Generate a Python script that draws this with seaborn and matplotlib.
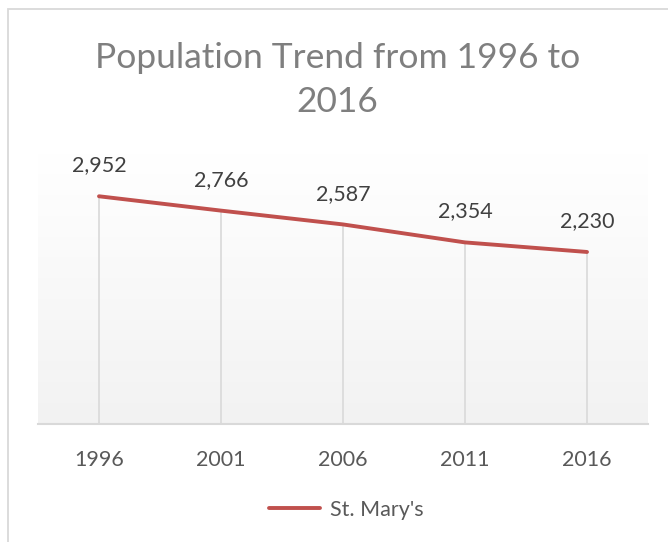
import numpy as np
import pandas as pd
import matplotlib.pyplot as plt
import seaborn as sns
from matplotlib.patches import Rectangle

years = ['1996', '2001', '2006', '2011', '2016']
population = [2952, 2766, 2587, 2354, 2230]
series_name = "St. Mary's"
title = 'Population Trend from 1996 to\n2016'

sns.set_theme(style='white')
plt.rcParams['font.family'] = ['Lato', 'DejaVu Sans']

df = pd.DataFrame({'year': years, 'population': population})

fig = plt.figure(figsize=(6.68, 5.42), dpi=100, facecolor='white')
ax = fig.add_axes([38 / 668, 118 / 542, 610 / 668, 270 / 542])

# gradient plot area, white at the top to light grey at the bottom
grad = np.linspace(0, 1, 256).reshape(-1, 1)
ax.imshow(grad, extent=[0, 1, 0, 1], transform=ax.transAxes, aspect='auto',
          cmap=sns.blend_palette(['#ffffff', '#f2f2f2'], as_cmap=True),
          origin='upper', zorder=0)

# drop lines
ax.vlines(df['year'], 0, df['population'], color='#d9d9d9', lw=1.2, zorder=1)

sns.lineplot(data=df, x='year', y='population', color='#c0504d', lw=2.8,
             label=series_name, ax=ax, zorder=3, sort=False)

for yr, val in zip(years, population):
    ax.annotate(f'{val:,}', (yr, val), xytext=(0, 15), textcoords='offset points',
                ha='center', va='bottom', fontsize=15.5, color='#404040')

ax.set_xlim(-0.5, len(years) - 0.5)
ax.set_ylim(0, 3500)
ax.set_xlabel('')
ax.set_ylabel('')
ax.set_yticks([])
ax.tick_params(axis='x', length=0, pad=19, labelsize=15.5, labelcolor='#595959')
for s in ['top', 'left', 'right']:
    ax.spines[s].set_visible(False)
ax.spines['bottom'].set_color('#d9d9d9')
ax.spines['bottom'].set_linewidth(1.5)
ax.spines['bottom'].set_zorder(2)

leg = ax.legend(loc='center', bbox_to_anchor=(0.505, -0.317), frameon=False,
                fontsize=15.5, handlelength=2.4, handletextpad=0.45)
for t in leg.get_texts():
    t.set_color('#595959')

fig.text(0.505, 0.853, title, ha='center', va='center', fontsize=25.5,
         color='#7f7f7f', linespacing=1.45)

# chart border
fig.patches.append(Rectangle((7.5 / 668, -0.1), 1.2, (534 - 0.5) / 542 + 0.1,
                             transform=fig.transFigure, fill=False,
                             edgecolor='#d9d9d9', lw=1.3))

fig.savefig('out.png', dpi=100)
